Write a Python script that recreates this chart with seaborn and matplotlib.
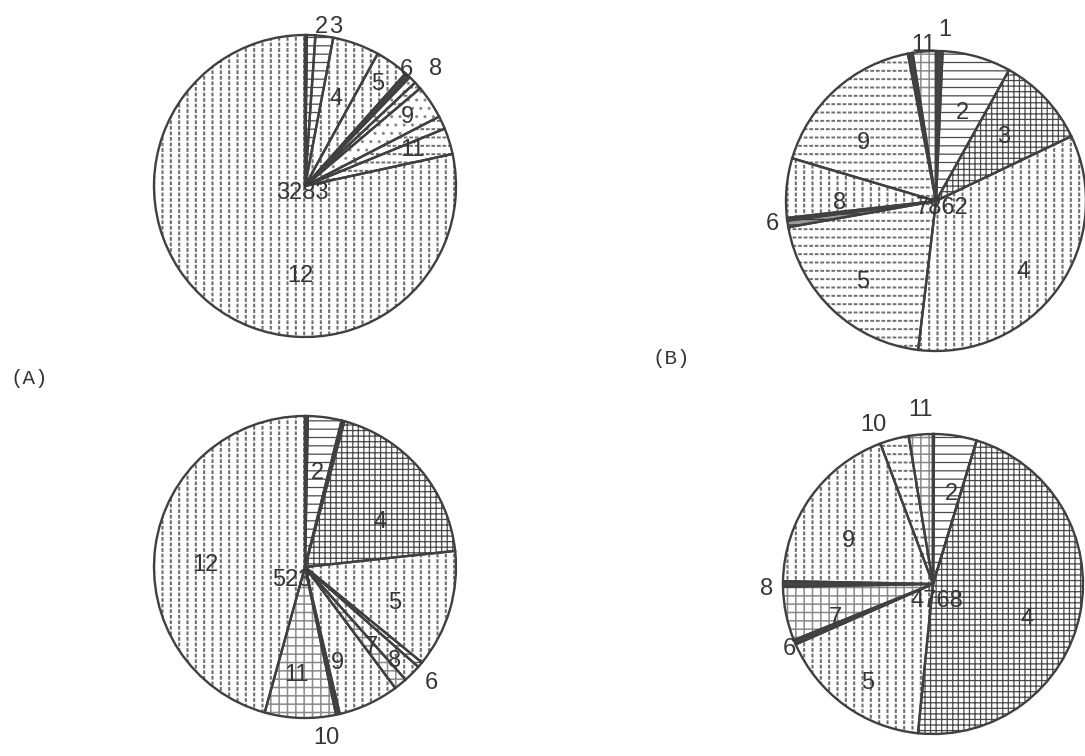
import matplotlib
matplotlib.use("Agg")
import numpy as np
import matplotlib.pyplot as plt
import seaborn as sns

sns.set_theme(style="white")
plt.rcParams["font.family"] = ["Liberation Sans", "DejaVu Sans"]
plt.rcParams["hatch.linewidth"] = 1.0

# ---------------- data (percent of total, slices 1..12, clockwise from top) ----------------
slice_ids = [str(i) for i in range(1, 13)]
pct_a = [0.2, 0.9, 1.9, 5.0, 3.6, 0.6, 0.8, 0.8, 3.6, 1.4, 2.8, 78.4]
pct_b = [0.7, 7.4, 9.8, 34.0, 20.3, 0.7, 0.3, 6.4, 17.4, 0.5, 2.5, 0.0]
pct_c = [0.3, 3.6, 0.3, 19.1, 12.6, 0.6, 1.9, 1.4, 6.5, 0.4, 7.6, 45.7]
pct_d = [0.1, 4.6, 0.0, 46.9, 16.8, 0.5, 5.8, 0.6, 19.0, 3.1, 2.6, 0.0]
totals = ["3283", "7862", "523", "4768"]
panel_tags = ["(A)", "(B)"]

# ---------------- style ----------------
W, H = 1085, 756
# face, hatch, hatch colour, hatch lw, white "breaker" hatch (for dashed look), breaker lw
pattern = {
    "H": dict(face="white", hatch="--", hc="#4a4a4a", hlw=0.9, brk=None),
    "X": dict(face="white", hatch="+++", hc="#4a4a4a", hlw=0.9, brk=None),
    "V": dict(face="white", hatch="||", hc="#6e6e6e", hlw=1.5, brk="---", blw=1.3),
    "D": dict(face="white", hatch="--", hc="#6e6e6e", hlw=1.4, brk="|||", blw=1.3),
    "G": dict(face="white", hatch="++", hc="#8a8a8a", hlw=1.1, brk=None),
    "S": dict(face="white", hatch="..", hc="#888888", hlw=1.0, brk=None),
    "M": dict(face="#9a9a9a", hatch="---", hc="#3a3a3a", hlw=1.0, brk=None),
    "K": dict(face="#454545", hatch="", hc="#454545", hlw=1.0, brk=None),
}
pies = [
    dict(vals=pct_a, center=(305, 186), r=151, tot=totals[0], toff=(-3, 7),
         pats="K H H V V K S D S D D V".split(),
         labels=[("2", 1, 1.06, 3.7), ("3", 2, 1.07, 3.5), ("4", 3, 0.61, 0),
                 ("5", 4, 0.83, 0), ("6", 5, 1.02, -1.7), ("8", 7, 1.16, 0),
                 ("9", 8, 0.82, 0), ("11", 10, 0.75, -1.4), ("12", 11, 0.6, -36)]),
    dict(vals=pct_b, center=(936, 201), r=150, tot=totals[1], toff=(6, 7),
         pats="K H X V D M K V D K G V".split(),
         labels=[("1", 0, 1.14, 1.8), ("11", 10, 1.04, 0), ("2", 1, 0.61, 0.7),
                 ("3", 2, 0.62, 0), ("4", 3, 0.75, 3.7), ("5", 4, 0.73, -1),
                 ("6", 5, 1.1, 0.7), ("8", 7, 0.64, -6), ("9", 8, 0.62, -9.5)]),
    dict(vals=pct_c, center=(305, 567), r=151, tot=totals[2], toff=(-13, 13),
         pats="K H K X V H V G V K G V".split(),
         labels=[("2", 1, 0.63, 0), ("4", 3, 0.58, 9.7), ("5", 4, 0.64, 5),
                 ("6", 5, 1.14, 2.2), ("7", 6, 0.69, 5.5), ("8", 7, 0.86, -4.5),
                 ("9", 8, 0.67, 6.3), ("10", 9, 1.14, 5.5), ("11", 10, 0.72, 2.6),
                 ("12", 11, 0.66, -6.6)]),
    dict(vals=pct_d, center=(933, 584), r=150, tot=totals[3], toff=(4, 17),
         pats="K H X X V K G K V D G V".split(),
         labels=[("10", 9, 1.13, -5.5), ("11", 10, 1.16, 0.5), ("2", 1, 0.61, 3.2),
                 ("4", 3, 0.67, 9), ("5", 4, 0.79, -2.3), ("6", 5, 1.05, -1.6),
                 ("7", 6, 0.69, -7.6), ("8", 7, 1.11, -1.7), ("9", 8, 0.63, -8.4)]),
]


def set_hlw(patch, lw):
    if hasattr(patch, "set_hatch_linewidth"):
        patch.set_hatch_linewidth(lw)


fig = plt.figure(figsize=(W / 100, H / 100), dpi=100)
fig.patch.set_facecolor("white")
ax = fig.add_axes([0, 0, 1, 1])

txt_col = "#363636"
for p in pies:
    cx, cy = p["center"][0], H - p["center"][1]
    r = p["r"]
    # hatch layer
    wedges, _ = ax.pie(p["vals"], startangle=90, counterclock=False,
                       center=(cx, cy), radius=r, frame=False,
                       wedgeprops=dict(linewidth=0))
    for w, key in zip(wedges, p["pats"]):
        st = pattern[key]
        w.set_facecolor(st["face"])
        w.set_edgecolor(st["hc"])
        w.set_hatch(st["hatch"])
        w.set_linewidth(0)
        set_hlw(w, st["hlw"])
    # white breaker layer -> dashed hatch look
    brk, _ = ax.pie(p["vals"], startangle=90, counterclock=False,
                    center=(cx, cy), radius=r, frame=False,
                    wedgeprops=dict(fill=False, linewidth=0))
    for w, key in zip(brk, p["pats"]):
        st = pattern[key]
        if st["brk"]:
            w.set_edgecolor("white")
            w.set_hatch(st["brk"])
            set_hlw(w, st["blw"])
        else:
            w.set_visible(False)
    # outline layer
    ax.pie(p["vals"], startangle=90, counterclock=False,
           center=(cx, cy), radius=r, frame=False,
           wedgeprops=dict(fill=False, edgecolor="#404040", linewidth=1.7))
    # slice labels
    for text, idx, dist, shift in p["labels"]:
        w = wedges[idx]
        ang = np.deg2rad((w.theta1 + w.theta2) / 2 - shift)
        ax.text(cx + dist * r * np.cos(ang), cy + dist * r * np.sin(ang), text,
                ha="center", va="center", fontsize=17, color=txt_col)
    ax.text(cx + p["toff"][0], cy - p["toff"][1], p["tot"], ha="center",
            va="center", fontsize=17, color=txt_col)

mono = ["Liberation Mono", "DejaVu Sans Mono"]
ax.text(29, H - 378, panel_tags[0], ha="center", va="center", fontsize=15,
        family=mono, color=txt_col)
ax.text(671, H - 358, panel_tags[1], ha="center", va="center", fontsize=15,
        family=mono, color=txt_col)

ax.set_xlim(0, W)
ax.set_ylim(0, H)
ax.set_aspect("equal")
ax.axis("off")
fig.savefig("out.png", dpi=100, facecolor="white")
